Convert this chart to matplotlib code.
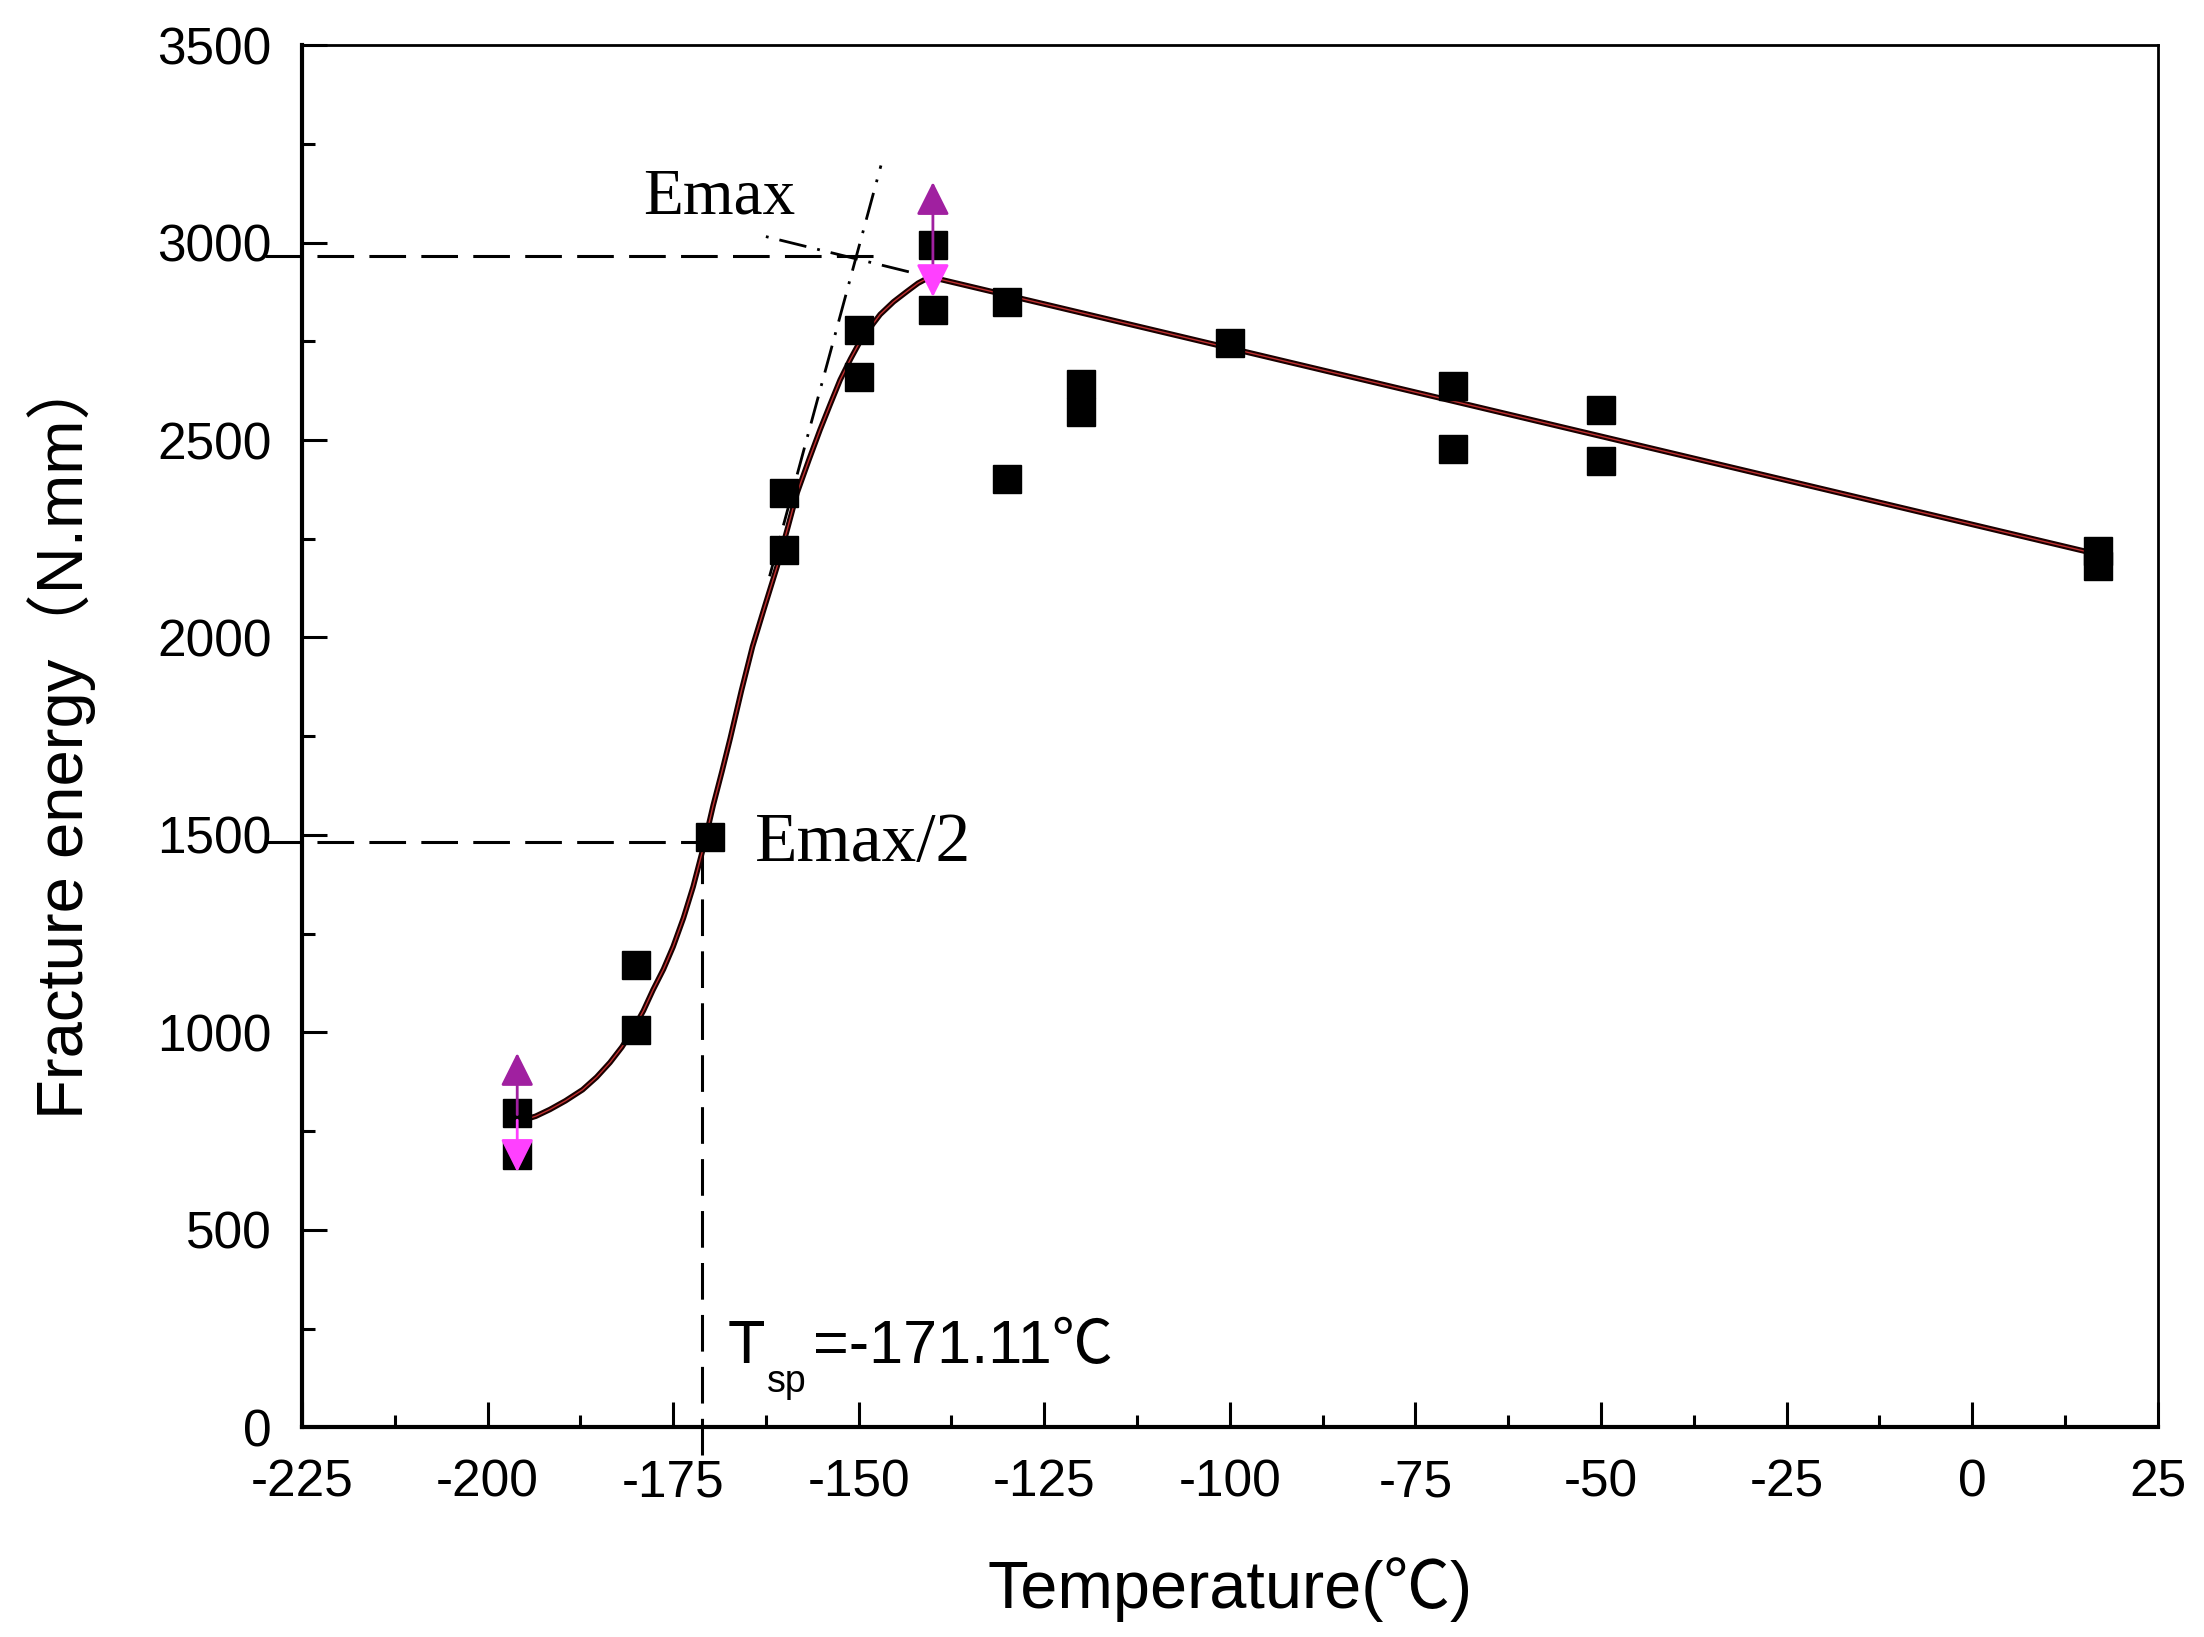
import matplotlib
matplotlib.use('Agg')
from matplotlib import pyplot as plt
from matplotlib import font_manager
from matplotlib.ticker import MultipleLocator
import numpy as np

plt.rcParams['axes.unicode_minus'] = False

# measured fracture energy points
temp = [-196, -196, -180, -180, -170, -160, -160, -150, -150, -140, -140,
        -130, -130, -120, -120, -100, -70, -70, -50, -50, 17, 17]
energy = [797, 691, 1172, 1007, 1496, 2366, 2222, 2779, 2660, 2994, 2830,
          2850, 2401, 2643, 2572, 2746, 2636, 2476, 2576, 2448, 2220, 2181]

# fitted curve
fit_t = [-195.6, -193.5, -191.6, -189.5, -187.2, -185.3, -183.5, -181.9, -180.4,
         -179.0, -177.7, -176.3, -175.0, -173.6, -172.3, -170.9, -169.6, -168.4,
         -167.3, -165.8, -164.3, -162.6, -161.0, -159.6, -158.3, -156.7, -155.2,
         -153.8, -152.5, -151.1, -149.8, -148.4, -147.1, -145.3, -143.5, -142.0,
         -140.4, 17.3]
fit_e = [776, 788, 805, 827, 855, 887, 924, 963, 1007,
         1055, 1108, 1160, 1217, 1290, 1369, 1470, 1575, 1662,
         1745, 1865, 1977, 2082, 2179, 2275, 2366, 2450, 2526,
         2592, 2652, 2705, 2750, 2786, 2818, 2850, 2876, 2897,
         2913, 2209]

# scatter arrows (magenta)
arr_t = [-196, -140]
arr_mid = [785, 2925]
arr_up = [955, 3160]
arr_down = [640, 2855]

E_max = 2965
T_sp = -171.11
E_half = 1482

# tangent lines
tan1_t = [-162.0, -147.0]
tan1_e = [2155, 3195]
tan2_t = [-162.5, -142.0]
tan2_e = [3015, 2920]

names = set(f.name for f in font_manager.fontManager.ttflist)
sans = 'Liberation Sans'
narrow = 'Liberation Sans Narrow' if 'Liberation Sans Narrow' in names else sans
serif = 'Liberation Serif'
fam = [sans, 'Noto Sans CJK SC', 'DejaVu Sans']

fig = plt.figure(figsize=(22.04, 16.37), dpi=100)
ax = fig.add_axes([0.137, 0.128, 0.842, 0.8445])

# reference dashed lines
ax.plot([-230, -147.5], [E_max, E_max], color='black', lw=2.2, dashes=(12, 5), clip_on=False)
ax.plot([-230, T_sp], [E_half, E_half], color='black', lw=2.2, dashes=(12, 5), clip_on=False)
ax.plot([T_sp, T_sp], [-70, E_half], color='black', lw=2.2, dashes=(12, 5), clip_on=False)
ax.plot(tan1_t, tan1_e, color='black', lw=2, dashes=(10, 4, 1, 4))
ax.plot(tan2_t, tan2_e, color='black', lw=2, dashes=(1, 4, 10, 4))

# fitted curve
ax.plot(fit_t, fit_e, color='#1a0000', lw=4, solid_capstyle='round', solid_joinstyle='round')
ax.plot(fit_t, fit_e, color='#c03030', lw=1.0)

ax.plot(temp, energy, 's', color='black', markersize=20, zorder=4)

for t, m, u, d in zip(arr_t, arr_mid, arr_up, arr_down):
    ax.annotate('', xy=(t, u), xytext=(t, m),
                arrowprops=dict(arrowstyle='-|>,head_length=0.6,head_width=0.3',
                                color='#a020a0', lw=2, mutation_scale=34), zorder=5)
    ax.annotate('', xy=(t, d), xytext=(t, m),
                arrowprops=dict(arrowstyle='-|>,head_length=0.6,head_width=0.3',
                                color='#ff40ff', lw=2, mutation_scale=34), zorder=5)

ax.text(-179, 3074, 'Emax', fontsize=47, family=serif, va='baseline')
ax.text(-164, 1434, 'Emax/2', fontsize=50, family=serif, va='baseline')
t1 = ax.text(-167.6, 164, 'T', fontsize=44, family=fam, va='baseline')
ax.annotate('sp', xy=(1, 0), xycoords=t1, xytext=(1, -12),
            textcoords='offset points', fontsize=27, family=fam, va='baseline')
ax.annotate('=-171.11℃', xy=(1, 0), xycoords=t1, xytext=(34, 0),
            textcoords='offset points', fontsize=44, family=fam, va='bottom')

ax.set_xlim(-225, 25)
ax.set_ylim(0, 3500)
ax.xaxis.set_major_locator(MultipleLocator(25))
ax.xaxis.set_minor_locator(MultipleLocator(12.5))
ax.yaxis.set_major_locator(MultipleLocator(500))
ax.yaxis.set_minor_locator(MultipleLocator(250))
ax.tick_params(which='major', direction='in', length=18, width=2.2, pad=22,
               labelsize=37, top=False, right=False)
ax.tick_params(which='minor', direction='in', length=9, width=2.2,
               top=False, right=False)
for lab in ax.get_xticklabels() + ax.get_yticklabels():
    lab.set_family(sans)

ax.spines['left'].set_linewidth(3)
ax.spines['bottom'].set_linewidth(3)
ax.spines['top'].set_linewidth(2)
ax.spines['right'].set_linewidth(2)

ax.set_xlabel('Temperature(℃)', fontsize=48, family=fam, labelpad=36)
ax.set_ylabel('Fracture energy（N.mm）', fontsize=47, family=[narrow, 'Noto Sans CJK SC'],
              labelpad=44)

plt.savefig('out.png', dpi=100)
plt.close()
